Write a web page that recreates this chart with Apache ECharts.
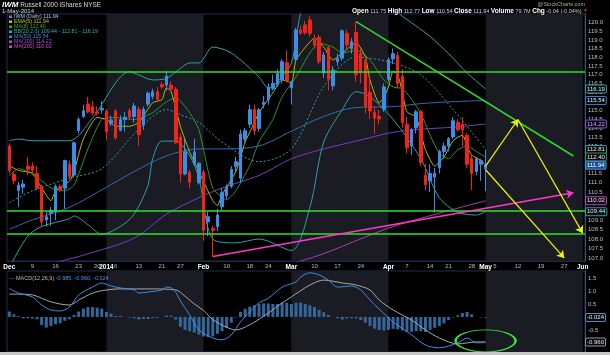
<!DOCTYPE html>
<html>
<head>
<meta charset="utf-8">
<script src="https://cdn.jsdelivr.net/npm/echarts@6.0.0/dist/echarts.min.js"></script>
<style>html,body{margin:0;padding:0;background:#000;overflow:hidden}#chart{width:610px;height:355px}</style>
</head>
<body>
<div id="chart"></div>
<script>
// ---------- categories (trading days, incl. future space) ----------
const dates = [
'2013-12-02','2013-12-03','2013-12-04','2013-12-05','2013-12-06','2013-12-09','2013-12-10','2013-12-11','2013-12-12','2013-12-13',
'2013-12-16','2013-12-17','2013-12-18','2013-12-19','2013-12-20','2013-12-23','2013-12-24','2013-12-26','2013-12-27','2013-12-30','2013-12-31',
'2014-01-02','2014-01-03','2014-01-06','2014-01-07','2014-01-08','2014-01-09','2014-01-10','2014-01-13','2014-01-14','2014-01-15','2014-01-16','2014-01-17',
'2014-01-21','2014-01-22','2014-01-23','2014-01-24','2014-01-27','2014-01-28','2014-01-29','2014-01-30','2014-01-31',
'2014-02-03','2014-02-04','2014-02-05','2014-02-06','2014-02-07','2014-02-10','2014-02-11','2014-02-12','2014-02-13','2014-02-14',
'2014-02-18','2014-02-19','2014-02-20','2014-02-21','2014-02-24','2014-02-25','2014-02-26','2014-02-27','2014-02-28',
'2014-03-03','2014-03-04','2014-03-05','2014-03-06','2014-03-07','2014-03-10','2014-03-11','2014-03-12','2014-03-13','2014-03-14',
'2014-03-17','2014-03-18','2014-03-19','2014-03-20','2014-03-21','2014-03-24','2014-03-25','2014-03-26','2014-03-27','2014-03-28','2014-03-31',
'2014-04-01','2014-04-02','2014-04-03','2014-04-04','2014-04-07','2014-04-08','2014-04-09','2014-04-10','2014-04-11',
'2014-04-14','2014-04-15','2014-04-16','2014-04-17','2014-04-21','2014-04-22','2014-04-23','2014-04-24','2014-04-25',
'2014-04-28','2014-04-29','2014-04-30','2014-05-01','2014-05-02',
'2014-05-05','2014-05-06','2014-05-07','2014-05-08','2014-05-09','2014-05-12','2014-05-13','2014-05-14','2014-05-15','2014-05-16',
'2014-05-19','2014-05-20','2014-05-21','2014-05-22','2014-05-23','2014-05-27','2014-05-28','2014-05-29','2014-05-30','2014-06-02'];

// ---------- daily candles [open, close, low, high] ----------
const candles = [
[113.00,111.65,111.50,113.15],[111.45,111.10,110.90,111.60],[110.57,110.87,109.70,111.05],[110.75,110.93,110.40,111.15],[111.90,111.72,111.41,112.38],
[111.90,111.68,111.40,112.10],[111.50,110.70,110.60,111.90],[110.80,108.90,108.65,110.90],[109.00,109.17,108.65,109.44],[109.35,109.50,108.70,109.70],
[109.44,110.80,109.00,110.90],[110.77,110.62,110.50,110.90],[110.70,112.20,109.60,112.25],[112.00,111.33,111.20,112.20],[111.41,113.18,111.30,113.25],
[113.85,114.47,113.70,114.60],[114.63,114.96,114.55,115.30],[115.34,114.90,114.80,115.72],[115.19,114.82,114.70,115.50],[114.90,114.82,114.70,115.20],
[115.00,115.10,114.80,115.50],[114.94,113.80,113.35,115.05],[114.25,114.45,114.10,114.70],[114.95,113.45,113.35,115.05],[113.87,114.47,113.80,114.70],
[114.47,114.60,113.80,114.90],[114.96,114.60,114.45,115.10],[114.63,115.23,114.30,115.40],[115.04,113.62,113.00,115.20],[114.15,115.04,113.90,115.20],
[115.33,115.94,115.20,116.05],[115.76,116.03,115.60,116.20],[116.03,115.60,115.50,116.30],[116.43,116.30,116.20,116.60],[116.41,116.92,116.10,117.20],
[116.41,116.17,116.00,116.60],[116.17,113.18,113.10,116.30],[113.50,111.47,111.00,113.70],[111.47,112.68,111.40,113.40],[111.56,111.02,110.70,111.70],
[112.05,112.68,111.90,113.40],[111.00,112.05,110.90,112.10],[111.56,108.45,107.90,111.70],[108.90,109.17,108.14,109.44],[108.55,108.45,107.07,108.70],
[108.65,109.26,108.40,109.60],[109.70,110.46,109.50,110.70],[110.30,110.75,110.10,110.90],[110.80,111.72,110.70,111.90],[111.88,112.14,111.60,112.40],
[111.24,113.66,111.00,113.90],[113.38,113.84,113.20,114.00],[114.20,115.02,114.00,115.30],[115.02,113.84,113.60,115.30],[113.97,115.02,113.80,115.10],
[115.30,115.43,115.10,115.80],[115.58,116.29,115.30,116.50],[116.20,116.50,116.10,117.00],[116.42,117.08,116.30,117.30],[116.70,117.74,116.50,117.90],
[117.68,116.66,116.60,118.40],[116.24,116.60,115.30,116.65],[117.88,119.57,117.80,119.70],[119.57,119.38,119.30,119.80],[119.87,119.42,119.30,120.10],
[120.16,119.38,119.20,120.40],[119.00,118.70,118.50,119.30],[119.15,117.74,117.60,119.30],[117.08,118.12,116.80,118.30],[118.57,116.74,116.10,118.60],
[116.36,117.27,116.10,117.50],[117.74,117.93,117.50,118.20],[117.94,119.53,117.80,119.60],[119.38,118.70,118.50,119.60],[118.50,118.89,118.20,119.10],
[119.43,117.00,116.60,120.06],[118.20,117.10,116.50,118.50],[117.80,115.20,114.80,118.00],[116.00,114.94,114.50,116.80],[114.88,114.55,113.70,115.20],
[114.65,114.50,114.20,115.00],[115.04,116.30,114.90,116.50],[116.72,117.85,116.60,118.00],[117.90,118.20,117.60,118.50],[118.10,116.50,116.20,118.30],
[116.90,114.30,114.00,117.30],[114.20,112.90,112.60,114.60],[113.00,113.90,112.50,114.00],[114.00,114.90,113.70,115.00],[114.90,112.10,111.90,115.00],
[111.40,110.90,110.60,112.00],[111.10,111.50,110.50,112.00],[111.30,111.50,109.40,111.80],[111.80,112.70,111.50,112.80],[112.70,113.00,112.30,113.20],
[113.00,113.40,112.70,113.50],[113.50,114.40,113.40,114.60],[114.30,113.90,113.80,114.50],[114.20,113.90,113.00,114.60],[113.60,112.00,111.80,113.70],
[112.30,111.50,110.60,112.50],[111.60,112.30,111.40,112.40],[112.00,112.20,111.10,112.30],[111.75,111.94,110.54,112.77]];

// ---------- overlays ----------
const ema5 = [['2013-12-02',111.92],['2013-12-04',111.66],['2013-12-09',111.5],['2013-12-11',110.71],['2013-12-13',110.03],['2013-12-16',110.56],
['2013-12-19',111.08],['2013-12-20',111.6],['2013-12-24',113.38],['2013-12-30',114.58],['2014-01-02',114.47],['2014-01-06',114.09],['2014-01-09',114.09],
['2014-01-13',114.31],['2014-01-16',115.41],['2014-01-21',115.58],['2014-01-22',116.25],['2014-01-23',116.03],['2014-01-27',114.09],['2014-01-29',112.68],
['2014-01-31',111.6],['2014-02-05',110.03],['2014-02-06',109.77],['2014-02-07',110.35],['2014-02-12',111.6],['2014-02-14',113.22],['2014-02-18',113.76],
['2014-02-20',114.85],['2014-02-25',115.97],['2014-02-27',116.7],['2014-03-03',116.53],['2014-03-04',117.84],['2014-03-07',118.88],['2014-03-10',119.1],
['2014-03-12',118.58],['2014-03-14',117.84],['2014-03-18',118.24],['2014-03-21',118.82],['2014-03-25',118.01],['2014-03-26',116.7],['2014-03-28',115.4],
['2014-03-31',115.7],['2014-04-01',116.3],['2014-04-02',117.2],['2014-04-03',117.0],['2014-04-04',116.0],['2014-04-07',114.9],['2014-04-09',114.6],
['2014-04-10',113.7],['2014-04-11',112.8],['2014-04-15',111.9],['2014-04-17',112.4],['2014-04-22',113.3],['2014-04-24',113.6],['2014-04-25',113.0],
['2014-04-28',112.5],['2014-04-30',112.2],['2014-05-01',111.94]];
const ma8 = [['2013-12-02',111.39],['2013-12-04',111.76],['2013-12-09',111.5],['2013-12-13',110.71],['2013-12-18',110.56],['2013-12-20',110.87],
['2013-12-26',112.84],['2013-12-31',114.47],['2014-01-06',114.58],['2014-01-10',114.47],['2014-01-16',114.85],['2014-01-22',115.47],['2014-01-24',115.69],
['2014-01-29',114.85],['2014-01-31',113.9],['2014-02-05',110.71],['2014-02-10',110.08],['2014-02-12',110.56],['2014-02-18',111.92],['2014-02-20',113.22],
['2014-02-25',114.47],['2014-02-27',115.75],['2014-03-04',116.87],['2014-03-07',118.24],['2014-03-11',118.82],['2014-03-14',118.58],['2014-03-18',118.24],
['2014-03-21',118.41],['2014-03-26',117.84],['2014-03-31',116.7],['2014-04-02',116.3],['2014-04-04',116.2],['2014-04-08',115.6],['2014-04-10',114.8],
['2014-04-14',113.6],['2014-04-16',112.6],['2014-04-21',112.3],['2014-04-23',112.8],['2014-04-25',113.0],['2014-04-29',112.7],['2014-05-01',112.40]];
const bbUpper = [['2013-12-02',113.29],['2013-12-04',113.38],['2013-12-09',113.29],['2013-12-19',113.29],['2013-12-27',114.56],['2014-01-09',117.17],
['2014-01-13',116.98],['2014-01-16',116.7],['2014-01-22',116.79],['2014-01-27',117.36],['2014-01-29',117.67],['2014-01-31',117.67],['2014-02-05',118.58],
['2014-02-11',118.24],['2014-02-20',116.87],['2014-02-24',116.25],['2014-02-26',116.59],['2014-03-03',117.67],['2014-03-05',120.57],['2014-03-07',121.8],
['2014-03-12',122.6],['2014-03-18',122.8],['2014-03-24',122.3],['2014-03-31',121.5],['2014-04-03',120.6],['2014-04-09',119.8],['2014-04-14',119.2],
['2014-04-21',118.2],['2014-04-25',117.1],['2014-05-01',116.19]];
const bbMiddle = [['2013-12-02',109.93],['2013-12-09',110.56],['2013-12-19',111.24],['2013-12-31',111.76],['2014-01-13',113.93],['2014-01-22',115.02],
['2014-01-27',114.74],['2014-01-31',114.3],['2014-02-07',113.22],['2014-02-20',112.14],['2014-03-03',112.84],['2014-03-12',116.31],['2014-03-21',118.01],
['2014-04-02',117.67],['2014-04-10',116.98],['2014-04-22',115.02],['2014-05-01',112.81]];
const bbLower = [['2013-12-02',106.5],['2013-12-06',108.14],['2013-12-11',108.65],['2013-12-19',109.06],['2013-12-20',109.21],['2013-12-26',108.75],
['2013-12-31',108.24],['2014-01-07',108.65],['2014-01-10',109.31],['2014-01-15',110.87],['2014-01-16',112.3],['2014-01-21',113.27],['2014-01-24',113.27],
['2014-01-29',112.46],['2014-01-31',111.24],['2014-02-05',107.99],['2014-02-12',107.79],['2014-02-20',107.99],['2014-03-03',107.39],['2014-03-07',109.67],
['2014-03-12',113.22],['2014-03-18',115.02],['2014-03-21',116.03],['2014-03-26',115.75],['2014-04-02',114.47],['2014-04-10',112.3],['2014-04-16',110.19],
['2014-04-23',109.41],['2014-04-29',109.26],['2014-05-01',109.44]];
const ma50 = [['2013-12-02',108.5],['2013-12-09',109.0],['2013-12-19',109.67],['2013-12-31',110.61],['2014-01-10',111.6],['2014-01-22',112.46],
['2014-01-31',112.84],['2014-02-07',112.84],['2014-02-20',113.0],['2014-03-03',113.82],['2014-03-12',114.64],['2014-03-21',115.14],['2014-04-02',115.19],
['2014-04-10',115.36],['2014-04-22',115.47],['2014-05-01',115.54]];
const ma100 = [['2013-12-02',105.6],['2013-12-12',106.6],['2013-12-24',107.14],['2014-01-10',108.04],['2014-01-22',109.31],['2014-01-31',110.19],
['2014-02-07',110.71],['2014-02-20',111.39],['2014-03-03',112.3],['2014-03-12',112.84],['2014-03-21',113.27],['2014-04-02',113.76],['2014-04-10',113.93],
['2014-04-22',114.04],['2014-05-01',114.22]];
const ma200 = [['2013-12-02',103.5],['2014-01-31',105.3],['2014-02-21',106.3],['2014-03-11',107.14],['2014-04-02',108.65],['2014-05-01',110.02]];

// ---------- MACD(12,26,9) ----------
const macdHist = [0.21,0.10,0.03,-0.05,-0.05,-0.06,-0.09,-0.31,-0.41,-0.35,
-0.28,-0.24,-0.15,-0.09,0.08,0.21,0.32,0.38,0.38,0.36,
0.32,0.19,0.13,0.04,0.04,0.0,-0.02,-0.05,-0.10,-0.08,
-0.08,-0.04,-0.03,0.0,0.05,0.05,-0.10,-0.38,-0.50,-0.55,
-0.60,-0.68,-0.75,-0.78,-0.75,-0.65,-0.55,-0.42,-0.22,-0.02,
0.20,0.32,0.40,0.45,0.50,0.52,0.52,0.50,0.50,0.55,
0.55,0.50,0.55,0.55,0.50,0.45,0.38,0.28,0.18,0.08,
0.0,-0.05,-0.10,-0.06,-0.05,-0.06,-0.12,-0.22,-0.35,-0.45,
-0.50,-0.52,-0.50,-0.46,-0.48,-0.52,-0.57,-0.57,-0.55,-0.55,
-0.58,-0.50,-0.42,-0.35,-0.25,-0.12,-0.02,0.06,0.15,0.19,
0.10,0.0,-0.02,-0.024];
const macdLine = [['2013-12-02',1.10],['2013-12-04',0.92],['2013-12-09',0.77],['2013-12-11',0.46],['2013-12-13',0.27],['2013-12-17',0.23],
['2013-12-19',0.38],['2013-12-23',0.85],['2013-12-27',1.15],['2013-12-31',1.31],['2014-01-03',1.19],['2014-01-07',1.12],['2014-01-10',1.04],
['2014-01-13',0.92],['2014-01-15',0.96],['2014-01-21',1.04],['2014-01-22',1.15],['2014-01-23',1.12],['2014-01-24',0.95],['2014-01-27',0.62],
['2014-01-29',0.08],['2014-01-31',-0.5],['2014-02-05',-0.81],['2014-02-07',-0.88],['2014-02-11',-0.69],['2014-02-13',-0.19],['2014-02-18',0.19],
['2014-02-20',0.54],['2014-02-24',0.72],['2014-02-27',1.15],['2014-03-04',1.35],['2014-03-05',1.54],['2014-03-07',1.70],['2014-03-11',1.62],
['2014-03-13',1.42],['2014-03-17',1.15],['2014-03-20',1.19],['2014-03-24',1.04],['2014-03-26',0.65],['2014-03-28',0.3],['2014-04-02',-0.19],
['2014-04-08',-0.69],['2014-04-11',-1.08],['2014-04-16',-1.19],['2014-04-23',-1.0],['2014-04-25',-0.81],['2014-04-29',-1.0],['2014-05-01',-0.985]];
const macdSignal = [['2013-12-02',0.88],['2013-12-04',0.88],['2013-12-09',0.85],['2013-12-13',0.58],['2013-12-19',0.46],['2013-12-23',0.65],
['2013-12-27',0.92],['2014-01-02',1.04],['2014-01-07',1.08],['2014-01-16',1.08],['2014-01-24',1.04],['2014-01-28',0.8],['2014-01-30',0.5],
['2014-02-03',0.25],['2014-02-05',-0.1],['2014-02-10',-0.4],['2014-02-12',-0.5],['2014-02-18',-0.3],['2014-02-24',0.15],['2014-02-27',0.54],
['2014-03-03',0.77],['2014-03-07',1.23],['2014-03-12',1.42],['2014-03-18',1.31],['2014-03-21',1.23],['2014-03-26',1.04],['2014-03-28',0.65],
['2014-04-02',0.27],['2014-04-08',-0.12],['2014-04-11',-0.5],['2014-04-16',-0.81],['2014-04-23',-1.04],['2014-04-25',-1.0],['2014-04-29',-0.96],
['2014-05-01',-0.96]];

// ---------- axis ticks ----------
const priceTicks = [107,107.5,108,108.5,109,109.5,110,110.5,111,111.5,112,112.5,113,113.5,114,114.5,115,115.5,116,116.5,117,117.5,118,118.5,119,119.5,120];
const macdTicks = [1.5,1.0,0.5,-0.5];
const dateTicks = [['2013-12-02','Dec'],['2013-12-09','9'],['2013-12-16','16'],['2013-12-23','23'],['2013-12-30','30'],['2014-01-02','2014'],
['2014-01-06','6'],['2014-01-13','13'],['2014-01-21','21'],['2014-01-27','27'],['2014-02-03','Feb'],['2014-02-10','10'],['2014-02-18','18'],
['2014-02-24','24'],['2014-03-03','Mar'],['2014-03-10','10'],['2014-03-17','17'],['2014-03-24','24'],['2014-04-01','Apr'],['2014-04-07','7'],
['2014-04-14','14'],['2014-04-21','21'],['2014-04-28','28'],['2014-05-01','May'],['2014-05-05','5'],['2014-05-12','12'],['2014-05-19','19'],
['2014-05-27','27'],['2014-06-02','Jun']];
const boldTicks = ['Dec','2014','Feb','Mar','Apr','May','Jun'];
const shadedMonths = [['2014-01-02','2014-02-03'],['2014-03-03','2014-04-01'],['2014-05-01','2014-06-02']];

// ---------- annotations ----------
const supportLevels = [117.17, 109.49, 108.25];
const greenTrend = [['2014-03-21',120.06],['2014-05-29',112.45]];
const pinkTrend = [['2014-02-05',107.07],['2014-05-29',110.45]];
const yellowArrows = [[['2014-05-01',111.9],['2014-05-12',114.47]],[['2014-05-12',114.47],['2014-06-02',108.3]],[['2014-05-01',111.7],['2014-05-27',107.0]]];
const macdCircle = ['2014-05-01',-0.92];

// ---------- last values ----------
const lastClose = 111.94, lastEma5 = 111.94, lastMa8 = 112.40, lastBB = [109.44,112.81,116.19], lastMa50 = 115.54, lastMa100 = 114.22, lastMa200 = 110.02;
const lastMacd = [-0.985,-0.960,-0.024];
const quote = {open:'111.75', high:'112.77', low:'110.54', close:'111.94', volume:'79.7M', chg:'-0.04 (-0.04%)'};

// ---------- build ----------
const FONT = '"Liberation Sans", Arial, sans-serif';
const tickMap = new Map(dateTicks);
const C = {ema:'#b8b800', ma8:'#2c962c', bb:'#2aa2aa', ma50:'#2f6cae', ma100:'#7a3cc4', ma200:'#b23ab0', up:'#3a8ee6', down:'#f22418'};

function box(value, color, fill, txt) {
  return {silent:true, symbol:'none', lineStyle:{color:'rgba(0,0,0,0)', width:1},
    label:{show:true, position:'end', distance:1, formatter:()=>value.toFixed(Math.abs(value)<1?3:2), fontSize:6, fontFamily:FONT,
      color:txt||'#e8e8e8', backgroundColor:fill||'#06080f', borderColor:color, borderWidth:1, borderRadius:1, padding:[1,1,0,1]},
    data:[{yAxis:value}]};
}
function lineSeries(name, data, color, extra) {
  return Object.assign({name, type:'line', xAxisIndex:0, yAxisIndex:0, data, symbol:'none', showSymbol:false,
    lineStyle:{color, width:1}, z:2, clip:true, animation:false}, extra||{});
}

const series = [
  {type:'line', xAxisIndex:0, yAxisIndex:0, data:[], z:0, silent:true,
    markArea:{silent:true, itemStyle:{color:'#1b1b23'}, data: shadedMonths.map(m=>[{xAxis:m[0]},{xAxis:m[1]}])}},
  {type:'line', xAxisIndex:1, yAxisIndex:1, data:[], z:0, silent:true,
    markArea:{silent:true, itemStyle:{color:'#1b1b23'}, data: shadedMonths.map(m=>[{xAxis:m[0]},{xAxis:m[1]}])}},
  {type:'line', xAxisIndex:0, yAxisIndex:0, data:[], z:1, silent:true,
    markLine:{silent:true, symbol:'none', label:{show:false}, lineStyle:{color:'#2fe02a', width:1.5, type:'solid'},
      data: supportLevels.map(v=>({yAxis:v}))}},
  lineSeries('MA(200)', ma200, C.ma200, {smooth:0.3, markLine: box(lastMa200, '#c040c0')}),
  lineSeries('MA(100)', ma100, C.ma100, {smooth:0.3, markLine: box(lastMa100, '#8a4ad0', '#06080f', '#c9a0ff')}),
  lineSeries('MA(50)', ma50, C.ma50, {smooth:0.3, markLine: box(lastMa50, '#3a78c0')}),
  lineSeries('BB lower', bbLower, C.bb, {smooth:0.3, markLine: box(lastBB[0], '#2aa2aa')}),
  lineSeries('BB middle', bbMiddle, C.bb, {smooth:0.3, lineStyle:{color:C.bb, width:1, type:[2,2]}, markLine: box(lastBB[1], '#2aa2aa')}),
  lineSeries('BB upper', bbUpper, C.bb, {smooth:0.3, markLine: box(lastBB[2], '#2aa2aa')}),
  lineSeries('MA(8)', ma8, C.ma8, {smooth:0.2, markLine: box(lastMa8, '#2ca02c')}),
  lineSeries('EMA(5)', ema5, C.ema, {smooth:0.2}),
  {name:'IWM', type:'candlestick', xAxisIndex:0, yAxisIndex:0, data:candles, barWidth:3, z:3,
    itemStyle:{color:C.up, color0:C.down, borderColor:C.up, borderColor0:C.down, borderWidth:1},
    markLine: box(lastClose, '#4a90e0', '#1d4f95', '#ffffff')},
  {type:'line', xAxisIndex:0, yAxisIndex:0, data:[], z:5, silent:true,
    markLine:{silent:true, symbol:'none', label:{show:false}, lineStyle:{color:'#2fd82a', width:1.5, type:'solid'},
      data:[[{coord:greenTrend[0]},{coord:greenTrend[1]}]]}},
  {type:'line', xAxisIndex:0, yAxisIndex:0, data:[], z:5, silent:true,
    markLine:{silent:true, symbol:['none','arrow'], symbolSize:7, label:{show:false}, lineStyle:{color:'#ff38c8', width:1.5, type:'solid'},
      data:[[{coord:pinkTrend[0]},{coord:pinkTrend[1]}]]}},
  {type:'line', xAxisIndex:0, yAxisIndex:0, data:[], z:5, silent:true,
    markLine:{silent:true, symbol:['none','arrow'], symbolSize:7, label:{show:false}, lineStyle:{color:'#f4f400', width:1.2, type:'solid'},
      data: yellowArrows.map(a=>[{coord:a[0]},{coord:a[1]}])}},
  {name:'hist', type:'bar', xAxisIndex:1, yAxisIndex:1, data:macdHist, barWidth:3, itemStyle:{color:'#33679c'}, z:2,
    markLine: box(lastMacd[2], '#5a8ac0')},
  {name:'signal', type:'line', xAxisIndex:1, yAxisIndex:1, data:macdSignal, symbol:'none', smooth:0.3, lineStyle:{color:'#a8a8a8', width:1}, z:3,
    markLine: box(lastMacd[1], '#9a9a9a'),
    markPoint:{silent:true, symbol:'circle', symbolSize:[60,22], label:{show:false},
      itemStyle:{color:'rgba(0,0,0,0)', borderColor:'#3ee03a', borderWidth:1.5}, data:[{coord:macdCircle}]}},
  {name:'macd', type:'line', xAxisIndex:1, yAxisIndex:1, data:macdLine, symbol:'none', smooth:0.3, lineStyle:{color:'#3a8ee6', width:1}, z:4}
];

const legendRows = [
  ['IWM (Daily) ' + lastClose.toFixed(2), '#9fc4ee', '#3a8ee6'],
  ['EMA(5) ' + lastEma5.toFixed(2), '#c8c800', '#c8c800'],
  ['MA(8) ' + lastMa8.toFixed(2), '#33b033', '#33b033'],
  ['BB(20,2.0) ' + lastBB.map(v=>v.toFixed(2)).join(' - '), '#2ab0b8', '#2ab0b8'],
  ['MA(50) ' + lastMa50.toFixed(2), '#4a88d0', '#4a88d0'],
  ['MA(100) ' + lastMa100.toFixed(2), '#9a5ae0', '#9a5ae0'],
  ['MA(200) ' + lastMa200.toFixed(2), '#e040d0', '#e040d0']
];
const graphic = [
  {type:'text', left:2, top:1, z:10, style:{text:'{lg|IWM} Russell 2000 iShares NYSE', fill:'#d8d8d8', font:'6.5px '+FONT,
    rich:{lg:{fontWeight:'bold', fontStyle:'italic', fontSize:8, fill:'#ffffff'}}}},
  {type:'text', left:2, top:8, z:10, style:{text:'1-May-2014', fill:'#d8d8d8', font:'6px '+FONT}},
  {type:'text', right:25, top:1, z:10, style:{text:'@StockCharts.com', fill:'#a8a8a8', font:'5.5px '+FONT}},
  {type:'text', right:22, top:7.5, z:10, style:{
    text:'{l|Open} '+quote.open+' {l|High} '+quote.high+' {l|Low} '+quote.low+' {l|Close} '+quote.close+' {l|Volume} '+quote.volume+' {l|Chg} '+quote.chg+' {r|▼}',
    fill:'#d0d0d0', font:'5.5px '+FONT, rich:{l:{fontWeight:'bold', fontSize:6.5, fill:'#ffffff'}, r:{fill:'#ff2020', fontSize:5}}}},
  {type:'text', left:9, top:275, z:10, style:{text:'{m|—} MACD(12,26,9) {v|'+lastMacd.map(v=>v.toFixed(3)).join(', ')+'}', fill:'#bbbbbb', font:'5.5px '+FONT,
    rich:{m:{fill:'#3a8ee6'}, v:{fill:'#4a9af0'}}}},
  {type:'rect', left:0, top:352, z:10, shape:{width:610, height:3}, style:{fill:'#c8c8c8'}}
];
legendRows.forEach((r,i)=>{
  graphic.push({type:'rect', left:9, top:15.5+i*5, z:10, shape:{width:3, height:2.5}, style:{fill:r[2]}});
  graphic.push({type:'text', left:14, top:14+i*5, z:10, style:{text:r[0], fill:r[1], font:'5.3px '+FONT}});
});

const option = {
  animation:false,
  backgroundColor:'#000',
  textStyle:{fontFamily:FONT},
  grid:[
    {left:7, top:14, width:578, height:247, show:true, borderColor:'#1e2c4a', borderWidth:1, backgroundColor:'#000', outerBoundsMode:'none'},
    {left:7, top:271, width:578, height:81, show:true, borderColor:'#1e2c4a', borderWidth:1, backgroundColor:'#000', outerBoundsMode:'none'}
  ],
  xAxis:[
    {type:'category', gridIndex:0, data:dates, boundaryGap:true,
      axisLine:{show:true, lineStyle:{color:'#1e2c4a'}}, axisTick:{show:false}, splitLine:{show:false},
      axisLabel:{show:true, interval:(i,v)=>tickMap.has(v), formatter:(v)=>{const t=tickMap.get(v)||''; return boldTicks.includes(t)?'{m|'+t+'}':t;},
        fontSize:6, color:'#b8b8b8', margin:2.5, hideOverlap:false,
        rich:{m:{fontWeight:'bold', color:'#ffffff', fontSize:6.5}}}},
    {type:'category', gridIndex:1, data:dates, boundaryGap:true, axisLine:{show:false}, axisTick:{show:false}, axisLabel:{show:false}, splitLine:{show:false}}
  ],
  yAxis:[
    {type:'log', logBase:10, gridIndex:0, position:'right', min:106.84, max:120.51, scale:true,
      axisLine:{show:true, lineStyle:{color:'#2c6a8a', type:'dotted'}}, axisTick:{show:false}, splitLine:{show:false},
      axisLabel:{customValues:priceTicks, formatter:(v)=>Number(v).toFixed(1), fontSize:6, color:'#bdbdbd', margin:3}},
    {type:'value', gridIndex:1, position:'right', min:-1.35, max:1.77,
      axisLine:{show:true, lineStyle:{color:'#2c6a8a', type:'dotted'}}, axisTick:{show:false}, splitLine:{show:false},
      axisLabel:{customValues:macdTicks, formatter:(v)=>Number(v).toFixed(1), fontSize:6, color:'#bdbdbd', margin:3}}
  ],
  series,
  graphic
};
const chart = echarts.init(document.getElementById('chart'), null, {renderer:'canvas'});
chart.setOption(option);
</script>
</body>
</html>
